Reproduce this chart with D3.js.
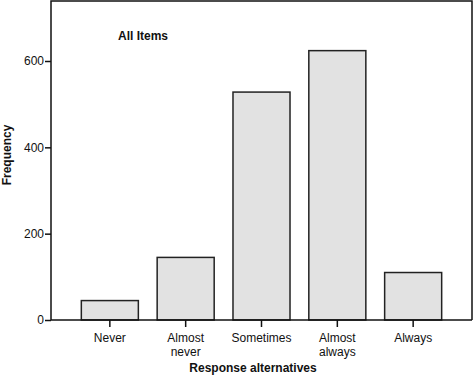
<!DOCTYPE html>
<html>
<head>
<meta charset="utf-8">
<script src="https://cdn.jsdelivr.net/npm/d3@7"></script>
<style>
  body { margin: 0; background: #fff; }
  svg { display: block; font-family: "Liberation Sans", Arial, sans-serif; }
</style>
</head>
<body>
<svg width="473" height="378"></svg>
<script>
(function(){
    // Chart data
    const categories = ["Never", "Almost never", "Sometimes", "Almost always", "Always"];
    const labelLines = [["Never"], ["Almost", "never"], ["Sometimes"], ["Almost", "always"], ["Always"]];
    const frequencies = [45, 145, 528, 624, 110];
    const yTicks = [0, 200, 400, 600];

    // Plot box
    const left = 51, right = 472, top = 1, bottom = 320;

    const svg = d3.select("svg");

    const x = d3.scaleBand()
        .domain(categories)
        .range([left, right])
        .paddingInner(0.248)
        .paddingOuter(0.40);

    const y = d3.scaleLinear()
        .domain([0, 739])
        .range([bottom, top]);

    // Bars
    svg.selectAll(".bar")
        .data(categories)
        .enter().append("rect")
        .attr("class", "bar")
        .attr("x", d => x(d))
        .attr("width", x.bandwidth())
        .attr("y", (d, i) => y(frequencies[i]))
        .attr("height", (d, i) => y(0) - y(frequencies[i]))
        .attr("fill", "#e2e2e2")
        .attr("stroke", "#222")
        .attr("stroke-width", 1.5);

    // Frame (left, top, right) and baseline
    svg.append("path")
        .attr("d", `M${left},${bottom}V${top}H${right}V${bottom}`)
        .attr("fill", "none")
        .attr("stroke", "#111")
        .attr("stroke-width", 1.5);

    // Y axis
    const yAxis = svg.append("g")
        .attr("transform", `translate(${left},0)`)
        .call(d3.axisLeft(y).tickValues(yTicks).tickSize(6).tickSizeOuter(0).tickFormat(d3.format("d")));
    yAxis.select(".domain").remove();
    yAxis.selectAll(".tick line").attr("stroke", "#111").attr("stroke-width", 1.5);
    yAxis.selectAll(".tick text")
        .attr("x", -7)
        .attr("font-size", 12)
        .attr("font-family", "Liberation Sans, Arial, sans-serif")
        .attr("fill", "#111");

    // X axis
    const xAxis = svg.append("g")
        .attr("transform", `translate(0,${bottom})`)
        .call(d3.axisBottom(x).tickSize(7).tickSizeOuter(0).tickFormat(""));
    xAxis.select(".domain")
        .attr("d", `M${left},0H${right}`)
        .attr("stroke", "#111")
        .attr("stroke-width", 1.5);
    xAxis.selectAll(".tick line").attr("stroke", "#111").attr("stroke-width", 1.5);

    // Multi-line category labels
    xAxis.selectAll(".tick text").remove();
    xAxis.selectAll(".tick").each(function(d, i) {
        const t = d3.select(this).append("text")
            .attr("fill", "#111")
            .attr("font-size", 12)
            .attr("text-anchor", "middle")
            .attr("y", 22);
        labelLines[i].forEach((line, j) => {
            t.append("tspan")
                .attr("x", 0)
                .attr("dy", j === 0 ? 0 : 14)
                .text(line);
        });
    });

    // Axis titles
    svg.append("text")
        .attr("x", 253)
        .attr("y", 372)
        .attr("text-anchor", "middle")
        .attr("font-size", 12)
        .attr("font-weight", "bold")
        .attr("fill", "#111")
        .text("Response alternatives");

    svg.append("text")
        .attr("transform", "translate(11,155) rotate(-90)")
        .attr("text-anchor", "middle")
        .attr("font-size", 12)
        .attr("font-weight", "bold")
        .attr("fill", "#111")
        .text("Frequency");

    // In-plot title
    svg.append("text")
        .attr("x", 118)
        .attr("y", 40)
        .attr("font-size", 12)
        .attr("font-weight", "bold")
        .attr("fill", "#111")
        .text("All Items");
})();
</script>
</body>
</html>
